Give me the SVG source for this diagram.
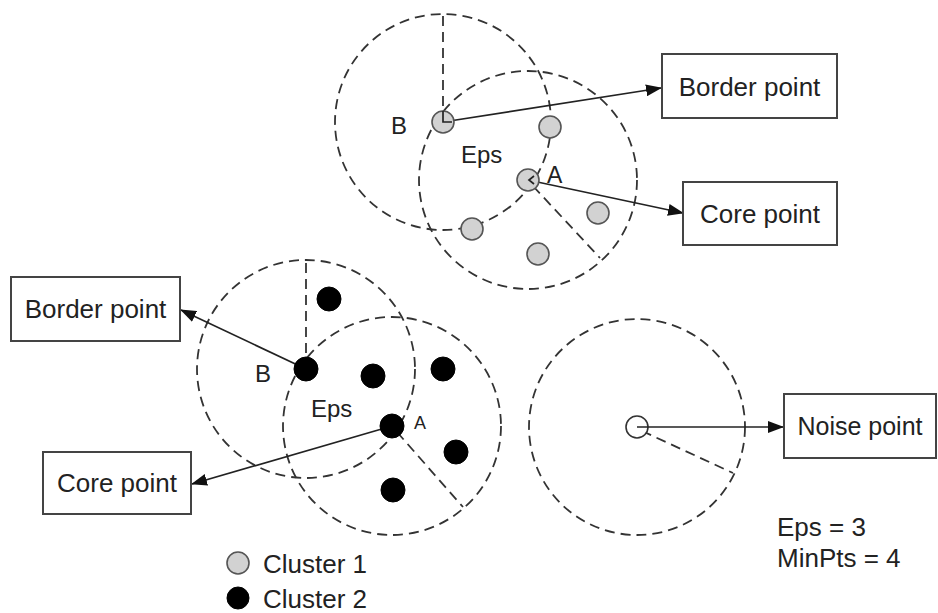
<svg xmlns="http://www.w3.org/2000/svg" width="938" height="613" viewBox="0 0 938 613">
<style>
.eps{fill:none;stroke:#333;stroke-width:1.8;stroke-dasharray:10 6}
.rad{fill:none;stroke:#333;stroke-width:1.8;stroke-dasharray:10 6}
.c1{fill:#d2d2d2;stroke:#555;stroke-width:1.6}
.c2{fill:#000;stroke:#000;stroke-width:1}
.box{fill:#fff;stroke:#444;stroke-width:2}
.t{font-family:"Liberation Sans",Arial,sans-serif;fill:#222}
.arr{fill:none;stroke:#222;stroke-width:1.7}
</style>
<defs>
<marker id="ah" markerWidth="16" markerHeight="12" refX="15" refY="6" orient="auto" markerUnits="userSpaceOnUse">
<path d="M0,0 L16,6 L0,12 z" fill="#111"/>
</marker>
</defs>
<rect width="938" height="613" fill="#fff"/>

<g id="neighbourhoods">
<circle class="eps" cx="443" cy="122" r="108"/>
<circle class="eps" cx="528" cy="180" r="109"/>
<line class="rad" x1="443" y1="122" x2="443" y2="14"/>
<line class="rad" x1="533" y1="186" x2="600" y2="258"/>
<circle class="eps" cx="306" cy="369" r="109"/>
<circle class="eps" cx="392" cy="426" r="109"/>
<line class="rad" x1="306" y1="369" x2="306" y2="260"/>
<line class="rad" x1="397" y1="432" x2="463" y2="507"/>
<circle class="eps" cx="637" cy="427" r="108"/>
<line class="rad" x1="642" y1="431" x2="733" y2="473"/>
</g>

<g id="noise">
<circle cx="637" cy="427" r="11" fill="#fff" stroke="#333" stroke-width="1.6"/>
</g>

<g id="connectors">
<line class="arr" x1="443" y1="122" x2="661" y2="88" marker-end="url(#ah)"/>
<line class="arr" x1="528" y1="180" x2="683" y2="213" marker-end="url(#ah)"/>
<line class="arr" x1="306" y1="369" x2="181" y2="310" marker-end="url(#ah)"/>
<line class="arr" x1="392" y1="426" x2="192" y2="484" marker-end="url(#ah)"/>
<line class="arr" x1="637" y1="427" x2="783" y2="427" marker-end="url(#ah)"/>
</g>

<g id="cluster1">
<circle class="c1" cx="443" cy="122" r="11"/>
<polyline class="arr" points="443,111 443,122 452,122"/>
<circle class="c1" cx="550" cy="127" r="11"/>
<circle class="c1" cx="528" cy="180" r="11"/>
<polyline class="arr" points="534,176 529,180 534,184"/>
<circle class="c1" cx="598" cy="213" r="11"/>
<circle class="c1" cx="472" cy="229" r="11"/>
<circle class="c1" cx="538" cy="254" r="11"/>
<text class="t" x="391" y="134" font-size="24">B</text>
<text class="t" x="461" y="163" font-size="24">Eps</text>
<text class="t" x="547" y="183" font-size="23">A</text>
</g>

<g id="cluster2">
<circle class="c2" cx="306" cy="369" r="12"/>
<circle class="c2" cx="329" cy="299" r="12"/>
<circle class="c2" cx="373" cy="376" r="12"/>
<circle class="c2" cx="443" cy="369" r="12"/>
<circle class="c2" cx="392" cy="426" r="12"/>
<circle class="c2" cx="456" cy="452" r="12"/>
<circle class="c2" cx="393" cy="490" r="12"/>
<text class="t" x="255" y="382" font-size="24">B</text>
<text class="t" x="311" y="417" font-size="24">Eps</text>
<text class="t" x="414" y="429" font-size="18">A</text>
</g>

<g id="box-border-top">
<rect class="box" x="662" y="54" width="175" height="64"/>
<text class="t" x="749.5" y="96" font-size="26" text-anchor="middle">Border point</text>
</g>
<g id="box-core-top">
<rect class="box" x="683" y="182" width="154" height="63"/>
<text class="t" x="760" y="223" font-size="26" text-anchor="middle">Core point</text>
</g>
<g id="box-border-bottom">
<rect class="box" x="11" y="277" width="169" height="64"/>
<text class="t" x="95.5" y="318" font-size="26" text-anchor="middle">Border point</text>
</g>
<g id="box-core-bottom">
<rect class="box" x="43" y="452" width="148" height="62"/>
<text class="t" x="117" y="492" font-size="26" text-anchor="middle">Core point</text>
</g>
<g id="box-noise">
<rect class="box" x="784" y="394" width="152" height="64"/>
<text class="t" x="860" y="435" font-size="25" text-anchor="middle">Noise point</text>
</g>

<g id="params">
<text class="t" x="777" y="536" font-size="26">Eps = 3</text>
<text class="t" x="777" y="567" font-size="26">MinPts = 4</text>
</g>

<g id="legend">
<circle class="c1" cx="238" cy="563" r="11"/>
<text class="t" x="263" y="573" font-size="26">Cluster 1</text>
<circle class="c2" cx="238" cy="598" r="11"/>
<text class="t" x="263" y="608" font-size="26">Cluster 2</text>
</g>
</svg>
